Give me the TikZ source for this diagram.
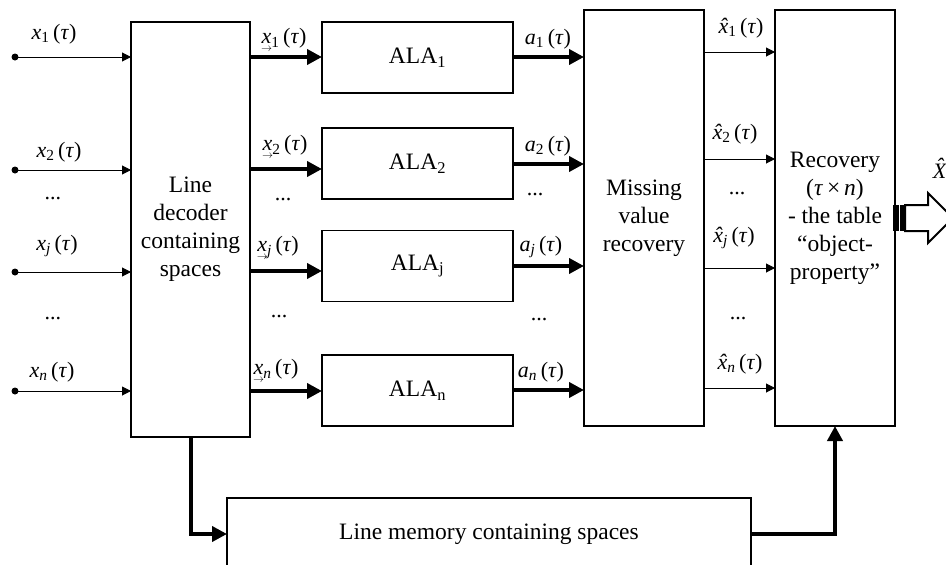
\documentclass[tikz,border=0pt]{standalone}
\usepackage{fontspec}
\setmainfont{Liberation Serif}
\usetikzlibrary{arrows.meta}
\newcommand{\lab}[2]{\textit{#1}\textsubscript{#2}\,(\textit{τ})}
\newcommand{\ulab}[1]{\rlap{\raisebox{-0.34em}{\hspace{-0.02em}$\scriptscriptstyle\rightarrow$}}\textit{x}\textsubscript{#1}\,(\textit{τ})}
\newcommand{\hx}{\textit{x}\llap{\textit{ˆ}\kern0.02em}}
\newcommand{\hlab}[1]{\hx\textsubscript{#1}\,(\textit{τ})}
\tikzset{
  box/.style={draw, line width=1.1pt, inner sep=0pt, outer sep=0pt, align=center, font=\fontsize{23.5}{28}\selectfont},
  thinarr/.style={line width=1pt, -{Triangle[length=9pt,width=9pt]}},
  thickarr/.style={line width=4pt, -{Triangle[length=15pt,width=15pt]}},
  lbl/.style={font=\fontsize{22}{26}\selectfont, inner sep=0pt},
  dotnode/.style={circle, fill, inner sep=0pt, minimum size=7pt},
}
\begin{document}
\begin{tikzpicture}[x=1pt,y=-1pt]
\useasboundingbox (0,0) rectangle (946,565);
\clip (0,0) rectangle (946,565);
% boxes
\node[box, minimum width=119pt, minimum height=415pt] (dec) at (190.5,229.5) {Line\\decoder\\containing\\spaces};
\node[box, minimum width=191pt, minimum height=71pt] (ala1) at (417.5,57.5) {ALA\textsubscript{1}};
\node[box, minimum width=191pt, minimum height=71pt] (ala2) at (417.5,163.5) {ALA\textsubscript{2}};
\node[box, minimum width=191pt, minimum height=71pt] (alaj) at (417.5,266) {ALA\textsubscript{j}};
\node[box, minimum width=191pt, minimum height=71pt] (alan) at (417.5,390.5) {ALA\textsubscript{n}};
\node[box, minimum width=120pt, minimum height=416pt] (miss) at (644,218) {Missing\\value\\recovery};
\node[box, minimum width=120pt, minimum height=416pt] (rec) at (835,218) {Recovery\\(\textit{τ}\,×\,\textit{n})\\- the table\\“object-\\property”};
\node[box, minimum width=524pt, minimum height=72pt] (mem) at (489,534) {Line memory containing spaces};
% inputs
\foreach \n/\y in {1/57,2/170,j/272,n/391}{
  \node[dotnode] (in\n) at (15,\y) {};
  \draw[thinarr] (in\n.center) -- (dec.west |- in\n.center);
}
% decoder -> ALA
\draw[thickarr] (dec.east |- 0,57) -- (ala1.west |- 0,57);
\draw[thickarr] (dec.east |- 0,169) -- (ala2.west |- 0,169);
\draw[thickarr] (dec.east |- 0,271) -- (alaj.west |- 0,271);
\draw[thickarr] (dec.east |- 0,391) -- (alan.west |- 0,391);
% ALA -> missing
\draw[thickarr] (ala1.east |- 0,57) -- (miss.west |- 0,57);
\draw[thickarr] (ala2.east |- 0,164) -- (miss.west |- 0,164);
\draw[thickarr] (alaj.east |- 0,266) -- (miss.west |- 0,266);
\draw[thickarr] (alan.east |- 0,390) -- (miss.west |- 0,390);
% missing -> recovery
\draw[thinarr] (miss.east |- 0,52) -- (rec.west |- 0,52);
\draw[thinarr] (miss.east |- 0,159) -- (rec.west |- 0,159);
\draw[thinarr] (miss.east |- 0,268) -- (rec.west |- 0,268);
\draw[thinarr] (miss.east |- 0,388) -- (rec.west |- 0,388);
% memory connections
\draw[thickarr] (dec.south) |- (mem.west);
\draw[thickarr] (mem.east) -| (rec.south);
% input labels
\node[lbl] (li1) at (54,34) {\lab{x}{1}};
\node[lbl] (li2) at (59,152) {\lab{x}{2}};
\node[lbl] (lid1) at (53,199) {...};
\node[lbl] (lij) at (57,246) {\lab{x}{\textit{j}}};
\node[lbl] (lid2) at (53,319) {...};
\node[lbl] (lin) at (52,372) {\lab{x}{\textit{n}}};
% decoder output labels
\node[lbl] (lo1) at (284,40) {\ulab{1}};
\node[lbl] (lo2) at (285,147) {\ulab{2}};
\node[lbl] (lod1) at (283,200) {...};
\node[lbl] (loj) at (278,248) {\ulab{\textit{j}}};
\node[lbl] (lod2) at (279,317) {...};
\node[lbl] (lon) at (276,371) {\ulab{\textit{n}}};
% a labels
\node[lbl] (la1) at (548,39) {\lab{a}{1}};
\node[lbl] (la2) at (548,146) {\lab{a}{2}};
\node[lbl] (lad1) at (535,195) {...};
\node[lbl] (laj) at (541,247) {\lab{a}{\textit{j}}};
\node[lbl] (lad2) at (539,320) {...};
\node[lbl] (lan) at (541,372) {\lab{a}{\textit{n}}};
% hat labels
\node[lbl] (lh1) at (741,28) {\hlab{1}};
\node[lbl] (lh2) at (735,134) {\hlab{2}};
\node[lbl] (lhd1) at (737,194) {...};
\node[lbl] (lhj) at (734,238) {\hlab{\textit{j}}};
\node[lbl] (lhd2) at (738,319) {...};
\node[lbl] (lhn) at (740,364) {\hlab{\textit{n}}};
\node[lbl] (lX) at (940,168) {\textit{X}\llap{\raisebox{0.22em}{\textit{ˆ}}\kern0.12em}};
% output striped arrow
\fill (893,205) rectangle (905,231);
\draw[white, line width=0.8pt] (899.5,205) -- (899.5,231);
\draw[line width=2pt, fill=white, line join=miter] (905,205) -- (928,205) -- (928,193) -- (953,218) -- (928,243) -- (928,231) -- (905,231) -- cycle;
\end{tikzpicture}
\end{document}
